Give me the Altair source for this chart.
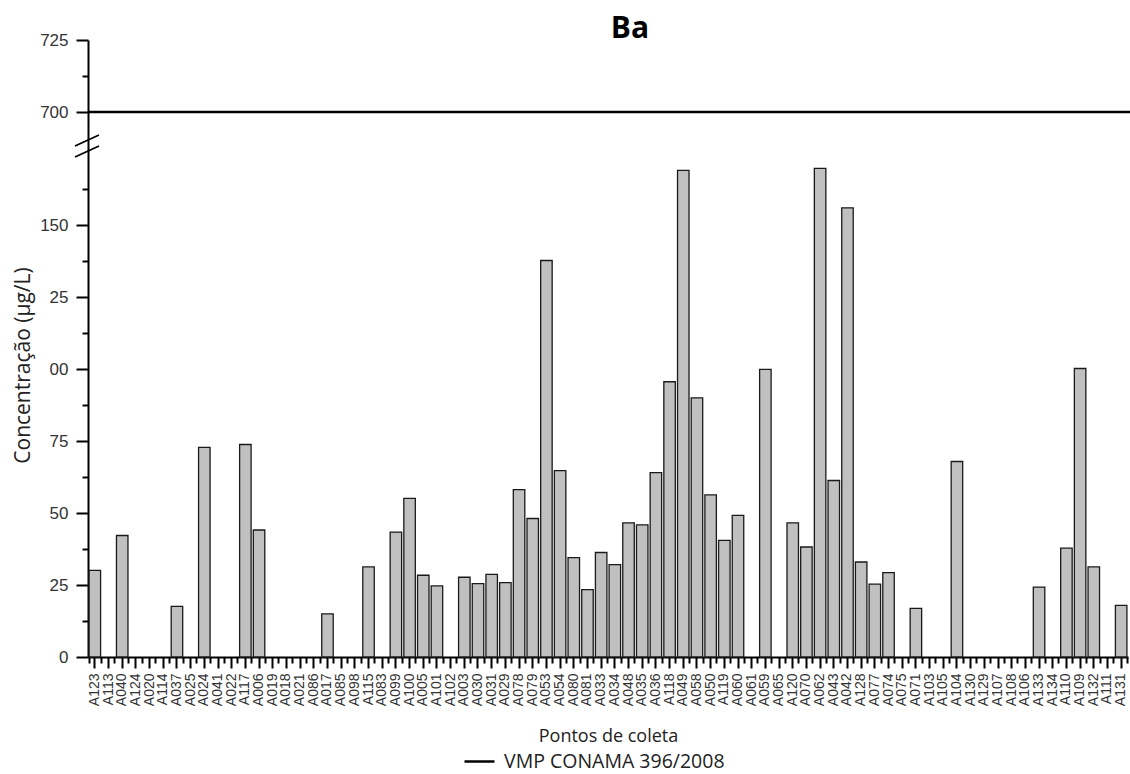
import altair as alt
import pandas as pd

categories = ["A123", "A113", "A040", "A124", "A020", "A114", "A037", "A025", "A024", "A041",
              "A022", "A117", "A006", "A019", "A018", "A021", "A086", "A017", "A085", "A098",
              "A115", "A083", "A099", "A100", "A005", "A101", "A102", "A003", "A030", "A031",
              "A029", "A078", "A079", "A053", "A054", "A080", "A081", "A033", "A034", "A048",
              "A035", "A036", "A118", "A049", "A058", "A050", "A119", "A060", "A061", "A059",
              "A065", "A120", "A070", "A062", "A043", "A042", "A128", "A077", "A074", "A075",
              "A071", "A103", "A105", "A104", "A130", "A129", "A107", "A108", "A106", "A133",
              "A134", "A110", "A109", "A132", "A111", "A131"]
values = [30.1, 0, 42.2, 0, 0, 0, 17.6, 0, 72.8, 0,
          0, 73.8, 44.1, 0, 0, 0, 0, 15.0, 0, 0,
          31.3, 0, 43.4, 55.1, 28.4, 24.7, 0, 27.7, 25.5, 28.7,
          25.8, 58.1, 48.1, 137.7, 64.7, 34.5, 23.4, 36.3, 32.1, 46.6,
          45.9, 64.0, 95.6, 169.0, 90.0, 56.3, 40.5, 49.2, 0, 99.9,
          0, 46.6, 38.2, 169.7, 61.3, 156.0, 33.0, 25.3, 29.3, 0,
          16.9, 0, 0, 67.9, 0, 0, 0, 0, 0, 24.3,
          0, 37.8, 100.2, 31.3, 0, 17.9]

vmp_value = [700]
vmp_label = ["VMP CONAMA 396/2008"]
y_major = [0, 25, 50, 75, 100, 125, 150, 700, 725]
y_minor = [12.5, 37.5, 62.5, 87.5, 112.5, 137.5, 162.5, 712.5]

df = pd.DataFrame({"ponto": categories, "conc": values})
vmp_df = pd.DataFrame({"v": vmp_value, "serie": vmp_label})
dummy = pd.DataFrame({"a": [0]})

W, H = 1040, 617
yscale = alt.Scale(domain=[0, 174, 691, 725], range=[H, 116, 98, 0], nice=False, zero=False)
xscale = alt.Scale(paddingInner=0.16, paddingOuter=0.08)

label_font = "Liberation Sans"
title_font = "Open Sans"

bars = alt.Chart(df).transform_filter("datum.conc > 0").mark_bar(
    fill="#c0c0c0", stroke="#1a1a1a", strokeWidth=1.3
).encode(
    x=alt.X("ponto:N", sort=categories, scale=xscale,
            axis=alt.Axis(orient="bottom", title="Pontos de coleta", labelAngle=-90,
                          labelAlign="right", labelBaseline="middle", grid=False,
                          tickSize=11, tickWidth=2, tickColor="black",
                          domainWidth=2, domainColor="black",
                          labelFont=label_font, labelFontSize=14, labelColor="#333",
                          labelPadding=5,
                          titleFont=title_font, titleFontSize=18, titleFontWeight="normal",
                          titleColor="#222", titleX=520, titleY=79,
                          titleBaseline="middle", titleAlign="center")),
    y=alt.Y("conc:Q", scale=yscale,
            axis=alt.Axis(orient="left", values=y_major, tickSize=12, tickWidth=2, grid=False,
                          tickColor="black", domainWidth=2, domainColor="black",
                          labelFont=label_font, labelFontSize=17, labelColor="#333",
                          labelPadding=8,
                          labelExpr="datum.value == 125 ? '25' : datum.value == 100 ? '00' : datum.label",
                          title="Concentração (µg/L)", titleFont=title_font,
                          titleFontSize=21, titleFontWeight="normal", titleColor="#222",
                          titleAngle=-90, titleX=-65, titleY=325,
                          titleBaseline="middle", titleAlign="center")),
)

minor = alt.Chart(df).mark_bar(opacity=0).encode(
    x=alt.X("ponto:N", sort=categories, scale=xscale,
            axis=alt.Axis(orient="bottom", tickBand="extent", tickSize=6, tickWidth=2, grid=False,
                          tickColor="black", labels=False, domain=False, title=None)),
    y=alt.Y("conc:Q", scale=yscale,
            axis=alt.Axis(orient="left", values=y_minor, tickSize=6, tickWidth=2, grid=False,
                          tickColor="black", labels=False, domain=False, title=None)),
)

rule = alt.Chart(vmp_df).mark_rule(strokeWidth=2.5).encode(
    y=alt.Y("v:Q", scale=yscale, axis=None),
    x=alt.value(0),
    x2=alt.value(W + 2),
    color=alt.Color("serie:N", scale=alt.Scale(range=["black"]),
                    legend=alt.Legend(title=None, orient="none", legendX=375, legendY=705,
                                      symbolType="stroke", symbolSize=900,
                                      symbolStrokeWidth=2.5, symbolStrokeColor="black",
                                      labelFont=title_font, labelFontSize=19.5, labelLimit=0,
                                      labelColor="#222", labelOffset=8)),
)

brk1 = alt.Chart(dummy).mark_rule(color="black", strokeWidth=1.8).encode(
    x=alt.value(-13), y=alt.value(106), x2=alt.value(11), y2=alt.value(95))
brk2 = alt.Chart(dummy).mark_rule(color="black", strokeWidth=1.8).encode(
    x=alt.value(-13), y=alt.value(117), x2=alt.value(11), y2=alt.value(106))

chart = alt.layer(bars, minor, rule, brk1, brk2).resolve_scale(
    x="shared", y="shared"
).resolve_axis(
    x="independent", y="independent"
).properties(
    width=W, height=H,
    background="white",
    title=alt.TitleParams("Ba", font=title_font, fontSize=30, fontWeight="bold",
                          anchor="middle", frame="group", dx=22, dy=17, offset=4, color="black"),
    autosize=alt.AutoSizeParams(type="none"),
    padding={"left": 88, "top": 40, "right": 2, "bottom": 117},
).configure_view(stroke=None, strokeWidth=0).configure_axis(grid=False)

chart.save("out.html", embed_options={"renderer": "svg", "actions": False})
